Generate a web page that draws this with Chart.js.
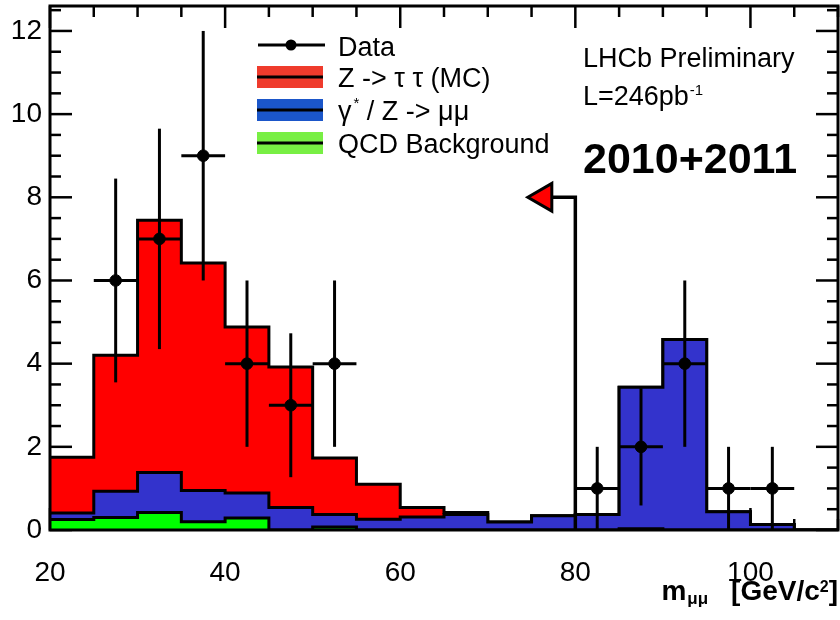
<!DOCTYPE html>
<html><head><meta charset="utf-8">
<script src="https://cdn.jsdelivr.net/npm/chart.js@4.4.1/dist/chart.umd.min.js"></script>
<style>html,body{margin:0;padding:0;background:#fff;}canvas{display:block;}</style>
</head><body>
<canvas id="c" width="840" height="620"></canvas>
<script>
// ---- data ----
const binEdges = [20,25,30,35,40,45,50,55,60,65,70,75,80,85,90,95,100,105,110];
const qcdBackground = [0.25,0.30,0.42,0.20,0.29,0,0.07,0,0,0,0,0,0,0.03,0,0,0,0];
const dimuonDY      = [0.16,0.63,0.96,0.75,0.60,0.54,0.30,0.26,0.31,0.37,0.19,0.34,0.37,3.40,4.58,0.44,0.13,0];
const zTauTau       = [1.34,3.27,6.07,5.47,3.99,3.38,1.36,0.84,0.23,0.05,0,0,0,0,0,0,0,0];
const dataMass   = [27.5,32.5,37.5,42.5,47.5,52.5,82.5,87.5,92.5,97.5,102.5];
const dataCounts = [6,7,9,4,3,4,1,2,4,1,1];
const dataErrors = [2.45,2.65,3,2,1.73,2,1,1.41,2,1,1];
const xTickLabels = [20,40,60,80,100];
const yTickLabels = [0,2,4,6,8,10,12];
const legendLabels = ['Data','Z -> \u03c4 \u03c4 (MC)','\u03b3',' / Z -> \u03bc\u03bc','QCD Background'];
const cutStem = [{x:80,y:0},{x:80,y:8},{x:77.3,y:8}];
const cutHead = [{x:76.4,y:8}];

const FONT = '"Liberation Sans", Arial, Helvetica, sans-serif';
const binHalf = 2.5;

function stepPoints(vals){
  const pts = vals.map((v,i)=>({x:binEdges[i], y:v}));
  pts.push({x:binEdges[vals.length], y:vals[vals.length-1]});
  return pts;
}
const cumGreen = qcdBackground.slice();
const cumBlue = qcdBackground.map((v,i)=>v+dimuonDY[i]);
const cumRed = cumBlue.map((v,i)=>v+zTauTau[i]);

function histDs(vals, color){
  return {type:'line', data:stepPoints(vals), stepped:'before', fill:'origin',
    backgroundColor:color, borderColor:'#000', borderWidth:3, pointRadius:0, tension:0};
}

const tickPlugin = {
  id:'innerTicks',
  beforeDatasetsDraw(chart){
    const {ctx, chartArea:a, scales:{x,y}} = chart;
    ctx.save(); ctx.strokeStyle='#000'; ctx.lineWidth=2.5;
    const ln=(x1,y1,x2,y2)=>{ctx.beginPath();ctx.moveTo(x1,y1);ctx.lineTo(x2,y2);ctx.stroke();};
    for(let v=20; v<=110; v+=5){
      const px=x.getPixelForValue(v); const L=(v%20===0)?22:11;
      ln(px,a.top,px,a.top+L); ln(px,a.bottom,px,a.bottom-L);
    }
    for(let v=0; v<=12.6; v+=0.5){
      const py=y.getPixelForValue(v); const L=(v%2===0)?22:11;
      ln(a.left,py,a.left+L,py); ln(a.right,py,a.right-L,py);
    }
    ctx.restore();
  },
  afterDatasetsDraw(chart){
    const {ctx, chartArea:a, scales:{x,y}} = chart;
    ctx.save(); ctx.strokeStyle='#000'; ctx.lineWidth=3;
    const ln=(x1,y1,x2,y2)=>{ctx.beginPath();ctx.moveTo(x1,y1);ctx.lineTo(x2,y2);ctx.stroke();};
    dataMass.forEach((m,i)=>{
      const px=x.getPixelForValue(m), py=y.getPixelForValue(dataCounts[i]);
      ln(px, y.getPixelForValue(dataCounts[i]-dataErrors[i]), px, y.getPixelForValue(dataCounts[i]+dataErrors[i]));
      ln(x.getPixelForValue(m-binHalf), py, x.getPixelForValue(m+binHalf), py);
    });
    ctx.lineWidth=3;
    ctx.strokeRect(a.left, a.top, a.right-a.left, a.bottom-a.top);
    ctx.restore();
  },
  afterDraw(chart){
    const ctx = chart.ctx;
    ctx.save();
    ctx.fillStyle='#000'; ctx.strokeStyle='#000'; ctx.textBaseline='alphabetic'; ctx.textAlign='left';
    ctx.lineWidth=3;
    ctx.beginPath(); ctx.moveTo(258,45); ctx.lineTo(325,45); ctx.stroke();
    ctx.beginPath(); ctx.arc(291,45,5.5,0,Math.PI*2); ctx.fill();
    const sw = [['#ef3b2c',77],['#1b56c9',110],['#78ef44',143]];
    sw.forEach(([c,cy])=>{
      ctx.fillStyle=c; ctx.fillRect(257,cy-11,66,22);
      ctx.strokeStyle='#000'; ctx.beginPath(); ctx.moveTo(257,cy); ctx.lineTo(323,cy); ctx.stroke();
    });
    ctx.fillStyle='#000';
    ctx.font='27px '+FONT;
    ctx.fillText(legendLabels[0],338,56);
    ctx.fillText(legendLabels[1],338,87);
    ctx.fillText(legendLabels[2],338,120);
    const gw = ctx.measureText(legendLabels[2]).width;
    ctx.font='15px '+FONT; ctx.fillText('*',338+gw+2,108);
    const sx = 338+gw+2+ctx.measureText('*').width;
    ctx.font='27px '+FONT; ctx.fillText(legendLabels[3],sx,120);
    ctx.fillText(legendLabels[4],338,153);
    ctx.fillText('LHCb Preliminary',583,67);
    ctx.fillText('L=246pb',583,105);
    const lw = ctx.measureText('L=246pb').width;
    ctx.font='15px '+FONT; ctx.fillText('-1',583+lw+1,95);
    ctx.font='bold 43px '+FONT; ctx.fillText('2010+2011',583,173);
    let xr = 838;
    ctx.font='bold 28px '+FONT;
    xr -= ctx.measureText(']').width; ctx.fillText(']',xr,600);
    ctx.font='bold 16px '+FONT;
    xr -= ctx.measureText('2').width; ctx.fillText('2',xr,592);
    ctx.font='bold 28px '+FONT;
    xr -= ctx.measureText('[GeV/c').width; ctx.fillText('[GeV/c',xr,600);
    xr -= 23;
    ctx.font='bold 17px '+FONT;
    xr -= ctx.measureText('\u03bc\u03bc').width; ctx.fillText('\u03bc\u03bc',xr,604);
    ctx.font='bold 28px '+FONT;
    xr -= ctx.measureText('m').width+1; ctx.fillText('m',xr,600);
    ctx.restore();
  }
};

new Chart(document.getElementById('c').getContext('2d'), {
  type:'line',
  data:{datasets:[
    {type:'line', data:dataMass.map((m,i)=>({x:m,y:dataCounts[i]})), showLine:false,
     pointRadius:5.8, pointBackgroundColor:'#000', pointBorderColor:'#000', borderColor:'#000'},
    {type:'line', data:cutHead, showLine:false, pointStyle:'triangle', rotation:-90, pointRadius:16,
     pointBackgroundColor:'#ff0000', pointBorderColor:'#000', pointBorderWidth:3},
    {type:'line', data:cutStem, borderColor:'#000', borderWidth:3.5, pointRadius:0, fill:false, tension:0},
    histDs(cumGreen,'#00ff00'),
    histDs(cumBlue,'#3333cc'),
    histDs(cumRed,'#ff0000')
  ]},
  options:{
    responsive:false, animation:false, devicePixelRatio:1,
    layout:{autoPadding:false, padding:{top:6,right:2,left:0,bottom:0}},
    plugins:{legend:{display:false}, tooltip:{enabled:false}},
    scales:{
      x:{type:'linear', min:20, max:110,
         grid:{display:false, drawTicks:false}, border:{display:false},
         afterBuildTicks:s=>{s.ticks = xTickLabels.map(v=>({value:v}));},
         afterFit:s=>{s.height=90; s.paddingLeft=0; s.paddingRight=0;},
         ticks:{font:{family:FONT,size:28}, color:'#000', padding:26, maxRotation:0, autoSkip:false}},
      y:{type:'linear', min:0, max:12.6,
         grid:{display:false, drawTicks:false}, border:{display:false},
         afterBuildTicks:s=>{s.ticks = yTickLabels.map(v=>({value:v}));},
         afterFit:s=>{s.width=50; s.paddingTop=0; s.paddingBottom=0;},
         ticks:{font:{family:FONT,size:28}, color:'#000', padding:8, autoSkip:false}}
    }
  },
  plugins:[tickPlugin]
});
</script>
</body></html>
